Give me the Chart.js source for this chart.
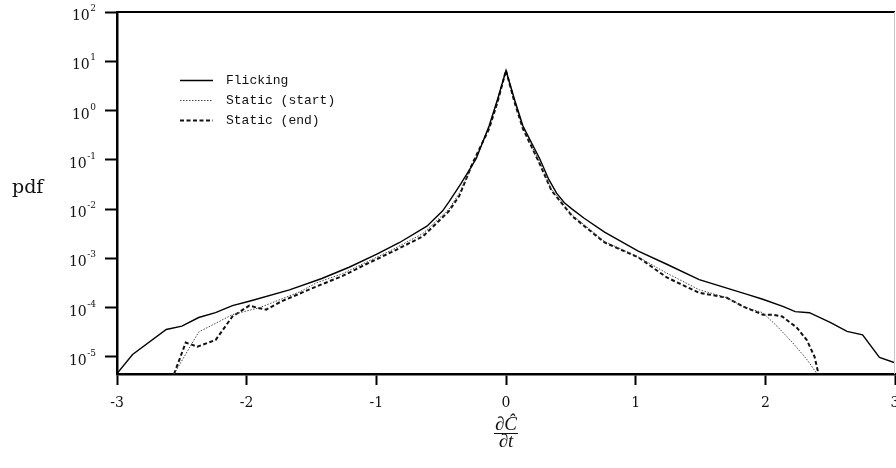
<!DOCTYPE html>
<html>
<head>
<meta charset="utf-8">
<script src="https://cdn.jsdelivr.net/npm/chart.js@4.4.1/dist/chart.umd.min.js"></script>
<style>
html, body { margin: 0; padding: 0; background: #fff; }
#wrap { width: 896px; height: 468px; }
</style>
</head>
<body>
<div id="wrap"><canvas id="chart"></canvas></div>
<script>
// values (x = dC/dt, y = pdf)
var flickX = [-3.0, -2.88, -2.62, -2.5, -2.37, -2.24, -2.11, -1.98, -1.67, -1.42, -1.21, -1.0, -0.82, -0.61, -0.49, -0.44, -0.35, -0.23, -0.13, -0.065, 0, 0.065, 0.13, 0.26, 0.33, 0.39, 0.45, 0.51, 0.6, 0.76, 1.02, 1.24, 1.49, 1.86, 1.98, 2.14, 2.23, 2.34, 2.5, 2.63, 2.75, 2.88, 3.0];
var flickY = [4.6e-6, 1.12e-5, 3.6e-5, 4.2e-5, 6.3e-5, 7.9e-5, 1.1e-4, 1.35e-4, 2.3e-4, 3.9e-4, 6.6e-4, 1.2e-3, 2.1e-3, 4.5e-3, 9.1e-3, 1.4e-2, 3.2e-2, 0.105, 0.49, 1.7, 6.5, 1.7, 0.49, 0.105, 0.04, 0.021, 0.0135, 0.01, 6.6e-3, 3.4e-3, 1.4e-3, 7.6e-4, 3.7e-4, 1.86e-4, 1.48e-4, 1.05e-4, 8.3e-5, 7.9e-5, 5.0e-5, 3.3e-5, 2.8e-5, 9.8e-6, 7.6e-6];

var startX = [-2.56, -2.37, -2.11, -1.90, -1.59, -1.46, -1.26, -1.08, -0.88, -0.64, -0.44, -0.36, -0.25, -0.13, -0.065, 0, 0.065, 0.13, 0.26, 0.35, 0.51, 0.76, 1.02, 1.24, 1.33, 1.49, 1.70, 1.83, 1.98, 2.09, 2.21, 2.32, 2.40];
var startY = [4.5e-6, 3.2e-5, 7.2e-5, 1.0e-4, 2.1e-4, 3.2e-4, 4.9e-4, 8.3e-4, 1.48e-3, 3.2e-3, 1.0e-2, 2.1e-2, 8.9e-2, 0.45, 1.6, 6.5, 1.6, 0.45, 0.089, 0.025, 7.6e-3, 2.2e-3, 1.07e-3, 5.0e-4, 3.8e-4, 2.3e-4, 1.6e-4, 1.05e-4, 7.9e-5, 4.2e-5, 1.95e-5, 8.9e-6, 4.5e-6];

var endX = [-2.56, -2.47, -2.38, -2.24, -2.11, -1.98, -1.92, -1.85, -1.73, -1.46, -1.26, -1.08, -0.88, -0.64, -0.44, -0.36, -0.26, -0.13, -0.065, 0, 0.065, 0.13, 0.26, 0.35, 0.51, 0.76, 1.02, 1.24, 1.49, 1.70, 1.83, 1.98, 2.06, 2.13, 2.24, 2.32, 2.38, 2.41];
var endY = [4.5e-6, 1.95e-5, 1.62e-5, 2.2e-5, 6.6e-5, 1.1e-4, 1.0e-4, 9.1e-5, 1.35e-4, 2.7e-4, 4.4e-4, 7.6e-4, 1.35e-3, 2.8e-3, 9.1e-3, 1.86e-2, 8.3e-2, 0.43, 1.5, 6.5, 1.5, 0.43, 0.083, 0.024, 7.2e-3, 2.1e-3, 1.05e-3, 4.1e-4, 2.0e-4, 1.6e-4, 1.05e-4, 7.2e-5, 7.2e-5, 6.6e-5, 4.0e-5, 2.2e-5, 1.0e-5, 4.5e-6];

var seriesNames = ['Flicking', 'Static (start)', 'Static (end)'];
var yExponents = [-5, -4, -3, -2, -1, 0, 1, 2];
var xTicks = [-3, -2, -1, 0, 1, 2, 3];

function pts(xs, ys) {
    return xs.map(function (x, i) { return { x: x, y: ys[i] }; });
}

var serif = '"DejaVu Serif", "Liberation Serif", serif';

var extras = {
    id: 'extras',
    afterDraw: function (chart) {
        var ctx = chart.ctx;
        var a = chart.chartArea;
        var ys = chart.scales.y;
        var xs = chart.scales.x;
        ctx.save();

        // top and right frame
        ctx.strokeStyle = '#000';
        ctx.lineWidth = 2;
        ctx.beginPath();
        ctx.moveTo(a.left, a.top);
        ctx.lineTo(a.right, a.top);
        ctx.stroke();
        ctx.strokeStyle = '#c8c8c8';
        ctx.lineWidth = 1;
        ctx.beginPath();
        ctx.moveTo(a.right - 0.5, a.top);
        ctx.lineTo(a.right - 0.5, a.bottom);
        ctx.stroke();

        // y tick labels 10^k
        ctx.fillStyle = '#111';
        yExponents.forEach(function (k) {
            var py = ys.getPixelForValue(Math.pow(10, k));
            ctx.font = '9px ' + serif;
            ctx.textAlign = 'right';
            ctx.textBaseline = 'alphabetic';
            var e = String(k);
            var w = ctx.measureText(e).width;
            ctx.fillText(e, 96, py - 1);
            ctx.font = '14px ' + serif;
            ctx.fillText('10', 96 - w - 0.5, py + 8);
        });

        // y title
        ctx.font = '19px ' + serif;
        ctx.textAlign = 'left';
        ctx.fillText('pdf', 12, 193);

        // x title as a fraction
        var cx = xs.getPixelForValue(0);
        ctx.font = 'italic 19px "Liberation Serif", serif';
        ctx.textAlign = 'center';
        ctx.fillText('\u2202\u0108', cx, 430);
        ctx.fillText('\u2202t', cx, 447);
        ctx.lineWidth = 1;
        ctx.strokeStyle = '#111';
        ctx.beginPath();
        ctx.moveTo(cx - 12, 433.5);
        ctx.lineTo(cx + 12, 433.5);
        ctx.stroke();

        // legend
        var rows = [80, 100, 120];
        ctx.font = '13px "Liberation Mono", monospace';
        ctx.textAlign = 'left';
        ctx.textBaseline = 'middle';
        chart.data.datasets.forEach(function (ds, i) {
            ctx.strokeStyle = ds.borderColor;
            ctx.lineWidth = ds.borderWidth;
            ctx.setLineDash(ds.borderDash || []);
            ctx.beginPath();
            ctx.moveTo(180, rows[i] + 0.5);
            ctx.lineTo(213, rows[i] + 0.5);
            ctx.stroke();
            ctx.setLineDash([]);
            ctx.fillStyle = '#111';
            ctx.fillText(seriesNames[i], 226, rows[i] + 1);
        });
        ctx.restore();
    }
};

new Chart(document.getElementById('chart'), {
    type: 'line',
    data: {
        datasets: [{
            label: seriesNames[0],
            data: pts(flickX, flickY),
            borderColor: '#000',
            borderWidth: 1.4,
            pointRadius: 0,
            tension: 0
        }, {
            label: seriesNames[1],
            data: pts(startX, startY),
            borderColor: '#444',
            borderWidth: 1,
            borderDash: [1.5, 1.5],
            pointRadius: 0,
            tension: 0
        }, {
            label: seriesNames[2],
            data: pts(endX, endY),
            borderColor: '#111',
            borderWidth: 2,
            borderDash: [4, 2.5],
            pointRadius: 0,
            tension: 0
        }]
    },
    options: {
        responsive: true,
        maintainAspectRatio: false,
        animation: false,
        devicePixelRatio: 1,
        layout: { padding: { top: 12, right: 1, left: 0, bottom: 0 } },
        plugins: {
            legend: { display: false },
            tooltip: { enabled: false }
        },
        scales: {
            x: {
                type: 'linear',
                min: -3,
                max: 3,
                afterBuildTicks: function (s) {
                    s.ticks = xTicks.map(function (v) { return { value: v }; });
                },
                afterFit: function (s) {
                    s.height = 94;
                    s.paddingLeft = 0;
                    s.paddingRight = 0;
                },
                ticks: {
                    autoSkip: false,
                    maxRotation: 0,
                    color: '#111',
                    padding: 10,
                    font: { family: serif, size: 14 },
                    callback: function (v) { return String(v); }
                },
                grid: {
                    display: true,
                    drawOnChartArea: false,
                    drawTicks: true,
                    tickLength: 11,
                    tickWidth: 2,
                    tickColor: '#000'
                },
                border: { display: true, color: '#000', width: 2.5 }
            },
            y: {
                type: 'logarithmic',
                min: 4.5e-6,
                max: 100,
                afterBuildTicks: function (s) {
                    s.ticks = yExponents.map(function (k) { return { value: Math.pow(10, k) }; });
                },
                afterFit: function (s) {
                    s.width = 117;
                    s.paddingTop = 0;
                    s.paddingBottom = 0;
                },
                ticks: {
                    callback: function () { return ''; }
                },
                grid: {
                    display: true,
                    drawOnChartArea: false,
                    drawTicks: true,
                    tickLength: 12,
                    tickWidth: 2,
                    tickColor: '#000'
                },
                border: { display: true, color: '#000', width: 2.5 }
            }
        }
    },
    plugins: [extras]
});
</script>
</body>
</html>
